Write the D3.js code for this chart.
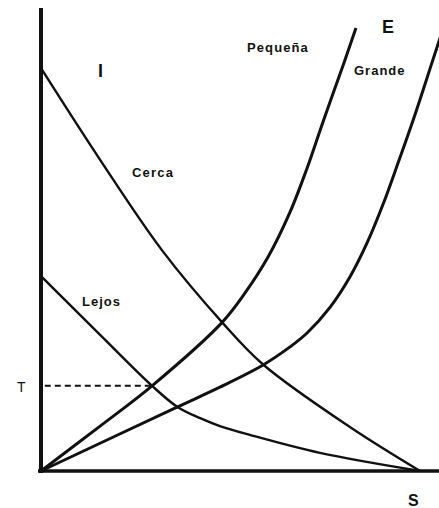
<!DOCTYPE html>
<html>
<head>
<meta charset="utf-8">
<script src="https://cdn.jsdelivr.net/npm/d3@7"></script>
<style>
  html, body { margin: 0; padding: 0; background: #fff; }
  svg { display: block; }
  text { font-family: "Liberation Sans", Arial, sans-serif; fill: #111; }
</style>
</head>
<body>
<svg id="chart" width="439" height="508"></svg>
<script>
// S on the horizontal axis, intensity on the vertical axis (arbitrary units)
const cercaS   = [0, 1.56, 3.19, 4.78, 5.86, 8.15, 10];
const cercaY   = [8.70, 6.72, 4.77, 3.21, 2.30, 0.95, 0];
const lejosS   = [0, 1.56, 2.93, 3.59, 4.20, 4.72, 5.51, 7.36, 10];
const lejosY   = [4.21, 2.94, 1.84, 1.39, 1.14, 0.97, 0.78, 0.39, 0];
const pequenaS = [0, 1.56, 2.93, 4.78, 5.38, 5.99, 6.57, 7.02, 7.44, 8.00, 8.31];
const pequenaY = [0, 0.97, 1.84, 3.21, 3.84, 4.62, 5.59, 6.54, 7.54, 8.83, 9.57];
const grandeS  = [0, 3.59, 4.72, 5.86, 6.57, 7.02, 7.63, 8.15, 8.60, 9.02, 9.42, 9.82, 10.34, 10.58];
const grandeY  = [0, 1.38, 1.81, 2.29, 2.68, 2.98, 3.54, 4.19, 4.92, 5.75, 6.65, 7.58, 8.88, 9.48];
const thresholdT = 1.84;   // level T, where Lejos meets Pequeña
const thresholdS = 2.93;

const svg = d3.select("#chart");
const x = d3.scaleLinear().domain([0, 10]).range([41, 420]);
const y = d3.scaleLinear().domain([0, 10]).range([471, 8]);

const line = d3.line().x(d => x(d[0])).y(d => y(d[1])).curve(d3.curveCatmullRom.alpha(0.5));
const pts = (xs, ys) => xs.map((v, i) => [v, ys[i]]);

// axes
svg.append("line")
  .attr("x1", x(0)).attr("x2", x(0))
  .attr("y1", y(0) + 2).attr("y2", y(10))
  .attr("stroke", "#111").attr("stroke-width", 4);
svg.append("line")
  .attr("x1", x(0) - 3).attr("x2", x(10.5))
  .attr("y1", y(0)).attr("y2", y(0))
  .attr("stroke", "#111").attr("stroke-width", 3.5);

// dashed threshold line
svg.append("line")
  .attr("x1", x(0.1)).attr("x2", x(thresholdS))
  .attr("y1", y(thresholdT)).attr("y2", y(thresholdT))
  .attr("stroke", "#111").attr("stroke-width", 2)
  .attr("stroke-dasharray", "6,4");

const curves = [
  { data: pts(cercaS, cercaY), w: 2.4 },
  { data: pts(lejosS, lejosY), w: 2.4 },
  { data: pts(pequenaS, pequenaY), w: 3 },
  { data: pts(grandeS, grandeY), w: 3 }
];
svg.selectAll("path.curve").data(curves).join("path")
  .attr("class", "curve")
  .attr("d", d => line(d.data))
  .attr("fill", "none")
  .attr("stroke", "#111")
  .attr("stroke-width", d => d.w)
  .attr("stroke-linejoin", "round");

// labels
const labels = [
  { t: "I", px: 98, py: 77, size: 18, weight: "bold", ls: 0 },
  { t: "Cerca", px: 132, py: 177, size: 13, weight: "bold", ls: 1.2 },
  { t: "Lejos", px: 82, py: 306, size: 13, weight: "bold", ls: 1 },
  { t: "Pequeña", px: 247, py: 52, size: 13, weight: "bold", ls: 1.1 },
  { t: "E", px: 382, py: 33, size: 18, weight: "bold", ls: 0 },
  { t: "Grande", px: 354, py: 75, size: 13, weight: "bold", ls: 1 },
  { t: "T", px: 17, py: 392, size: 14, weight: "normal", ls: 0 },
  { t: "S", px: 408, py: 506, size: 16, weight: "bold", ls: 0 }
];
svg.selectAll("text.lbl").data(labels).join("text")
  .attr("class", "lbl")
  .attr("x", d => d.px).attr("y", d => d.py)
  .attr("font-size", d => d.size)
  .attr("font-weight", d => d.weight)
  .attr("letter-spacing", d => d.ls)
  .text(d => d.t);
</script>
</body>
</html>
